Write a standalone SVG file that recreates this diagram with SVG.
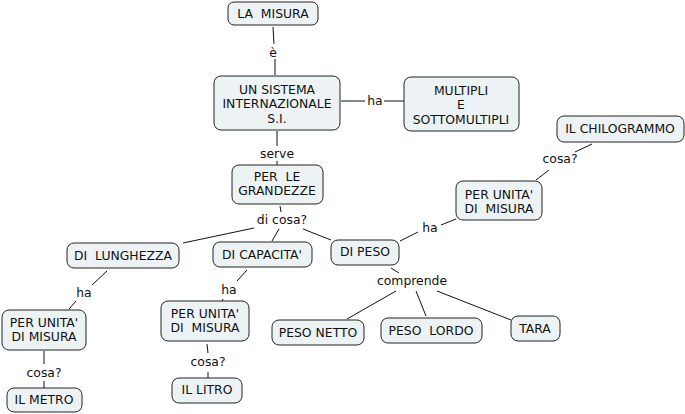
<svg xmlns="http://www.w3.org/2000/svg" width="685" height="414" viewBox="0 0 685 414">
<style>
.n rect{fill:#EDF3F5;stroke:#222;stroke-width:1;}
text{font-family:"DejaVu Sans",Verdana,sans-serif;font-size:12.4px;fill:#111;text-anchor:middle;white-space:pre;}
.c line{stroke:#111;stroke-width:1;}
</style>
<rect width="685" height="414" fill="#fff"/>
<g class="c">
<line x1="273" y1="27" x2="274" y2="44"/><line x1="275" y1="59" x2="275" y2="75"/>
<line x1="341" y1="101" x2="365" y2="101"/><line x1="384" y1="101" x2="404" y2="101"/>
<line x1="277" y1="131" x2="277" y2="146"/><line x1="277" y1="161" x2="277" y2="165"/>
<line x1="280" y1="206" x2="281" y2="212"/>
<line x1="254" y1="228" x2="183" y2="243"/>
<line x1="279" y1="229" x2="272" y2="241"/>
<line x1="303" y1="229" x2="331" y2="240"/>
<line x1="400" y1="241" x2="418" y2="232"/><line x1="441" y1="225" x2="456" y2="219"/>
<line x1="536" y1="180" x2="549" y2="170"/><line x1="575" y1="152" x2="592" y2="144"/>
<line x1="107" y1="271" x2="92" y2="285"/><line x1="76" y1="301" x2="69" y2="309"/>
<line x1="247" y1="270" x2="237" y2="281"/><line x1="223" y1="299" x2="222" y2="301"/>
<line x1="44" y1="351" x2="44" y2="364"/><line x1="44" y1="381" x2="44" y2="388"/>
<line x1="207" y1="344" x2="208" y2="353"/><line x1="208" y1="372" x2="208" y2="378"/>
<line x1="391" y1="268" x2="399" y2="273"/>
<line x1="396" y1="291" x2="347" y2="319"/>
<line x1="416" y1="291" x2="426" y2="316"/>
<line x1="437" y1="291" x2="511" y2="320"/>
</g>
<g id="labels">
<text x="273" y="57">è</text>
<text x="375" y="105">ha</text>
<text x="277" y="158">serve</text>
<text x="282" y="224">di cosa?</text>
<text x="430" y="232">ha</text>
<text x="560" y="163">cosa?</text>
<text x="84" y="297">ha</text>
<text x="229" y="294">ha</text>
<text x="44" y="377">cosa?</text>
<text x="208" y="366">cosa?</text>
<text x="412" y="285">comprende</text>
</g>
<g id="n1" class="n"><rect x="228" y="2" width="90" height="23" rx="6"/><text x="273" y="18">LA  MISURA</text></g>
<g id="n2" class="n"><rect x="214" y="76" width="126" height="54" rx="7"/><text x="277" y="94">UN SISTEMA</text><text x="277" y="108">INTERNAZIONALE</text><text x="277" y="123">S.I.</text></g>
<g id="n3" class="n"><rect x="404" y="77" width="115" height="54" rx="7"/><text x="461" y="95">MULTIPLI</text><text x="461" y="109">E</text><text x="461" y="124">SOTTOMULTIPLI</text></g>
<g id="n4" class="n"><rect x="232" y="165" width="91" height="39" rx="7"/><text x="277" y="181">PER  LE</text><text x="277" y="195">GRANDEZZE</text></g>
<g id="n5" class="n"><rect x="67" y="243" width="112" height="25" rx="7"/><text x="123" y="260">DI  LUNGHEZZA</text></g>
<g id="n6" class="n"><rect x="213" y="242" width="99" height="25" rx="7"/><text x="262" y="259">DI CAPACITA'</text></g>
<g id="n7" class="n"><rect x="331" y="240" width="68" height="25" rx="7"/><text x="365" y="256">DI PESO</text></g>
<g id="n8" class="n"><rect x="456" y="181" width="86" height="39" rx="7"/><text x="499" y="199">PER UNITA'</text><text x="499" y="213">DI  MISURA</text></g>
<g id="n9" class="n"><rect x="557" y="116" width="127" height="26" rx="7"/><text x="620" y="133">IL CHILOGRAMMO</text></g>
<g id="n10" class="n"><rect x="2" y="310" width="84" height="40" rx="7"/><text x="44" y="327">PER UNITA'</text><text x="44" y="341">DI MISURA</text></g>
<g id="n11" class="n"><rect x="7" y="388" width="75" height="24" rx="7"/><text x="44" y="404">IL METRO</text></g>
<g id="n12" class="n"><rect x="161" y="301" width="88" height="40" rx="7"/><text x="205" y="318">PER UNITA'</text><text x="205" y="332">DI  MISURA</text></g>
<g id="n13" class="n"><rect x="172" y="378" width="70" height="25" rx="7"/><text x="207" y="394">IL LITRO</text></g>
<g id="n14" class="n"><rect x="272" y="320" width="92" height="25" rx="7"/><text x="318" y="337">PESO NETTO</text></g>
<g id="n15" class="n"><rect x="381" y="318" width="101" height="25" rx="7"/><text x="431" y="335">PESO  LORDO</text></g>
<g id="n16" class="n"><rect x="511" y="316" width="49" height="25" rx="7"/><text x="535" y="333">TARA</text></g>
</svg>
